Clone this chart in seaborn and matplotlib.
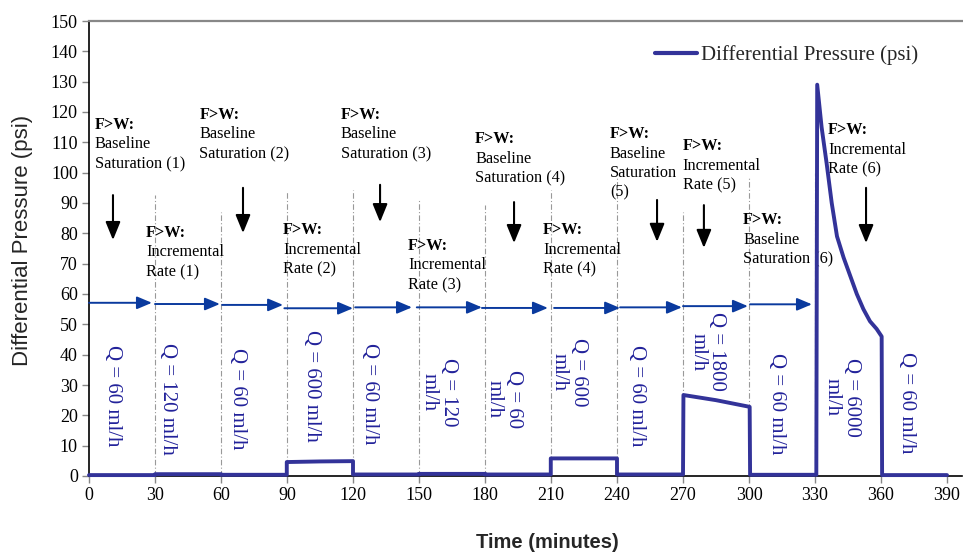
import numpy as np
import pandas as pd
import matplotlib
matplotlib.use("Agg")
import matplotlib.pyplot as plt
import seaborn as sns

# ---------------- data ----------------
time_min = [0, 30, 30, 60, 60, 89.9, 89.9, 105, 120, 120, 150, 150, 180, 180,
            209.9, 209.9, 240, 240, 270, 270.2, 285, 300.3, 300.5, 330.6, 331,
            333, 335.3, 337.6, 340, 343, 346, 349, 352, 355, 358, 360.3,
            360.5, 390]
pressure_psi = [0.3, 0.3, 0.6, 0.6, 0.4, 0.4, 4.6, 4.8, 4.9, 0.5, 0.5, 0.7, 0.7, 0.5,
                0.5, 5.8, 5.8, 0.5, 0.5, 26.7, 25.0, 22.8, 0.4, 0.4, 129,
                115, 103, 90, 79, 72, 66, 60, 55, 51, 48.5, 46,
                0.3, 0.3]

series_label = "Differential Pressure (psi)"
x_ticks = list(range(0, 391, 30))
y_ticks = list(range(0, 151, 10))

# phase boundaries (dashed lines) and their top heights
boundary_x = [30, 60, 90, 120, 150, 180, 210, 240, 270, 300, 330]
boundary_top = [92.6, 87, 93.6, 94.3, 91, 89.3, 94.3, 98.2, 87, 98.2, 99.9]

# phase annotations: header, body lines, anchor x, anchor y(top)
phase_header = "F>W:"
phase_bodies = [
    ["Baseline", "Saturation (1)"],
    ["Incremental", "Rate (1)"],
    ["Baseline", "Saturation (2)"],
    ["Incremental", "Rate (2)"],
    ["Baseline", "Saturation (3)"],
    ["Incremental", "Rate (3)"],
    ["Baseline", "Saturation (4)"],
    ["Incremental", "Rate (4)"],
    ["Baseline", "Saturation", "(5)"],
    ["Incremental", "Rate (5)"],
    ["Baseline", "Saturation (6)"],
    ["Incremental", "Rate (6)"],
]
phase_x = [2.7, 25.9, 50.2, 88.2, 114.5, 145, 175.5, 206.4, 236.8, 269.9, 297.3, 336]
phase_y = [118.4, 82.8, 121.7, 83.7, 121.7, 78.5, 113.7, 83.7, 115.4, 111.4, 87, 116.7]

# black down arrows: x, top, tip
down_x = [10.9, 70, 132.3, 193.2, 258.2, 279.5, 353.2]
down_top = [92.6, 95, 96, 90.3, 91, 89.3, 95]
down_tip = [77.8, 80.1, 83.7, 76.8, 77.2, 75.2, 76.8]

# blue horizontal arrows: start x, end x, level
flow_start = [0, 30, 60.5, 88.8, 121, 149, 178.6, 211.4, 241.4, 270, 300.5]
flow_end = [28.6, 59.5, 88.2, 120, 146.8, 178.6, 208.6, 241.4, 269.5, 299.5, 328.6]
flow_level = [57.1, 56.7, 56.4, 55.3, 55.6, 55.6, 55.4, 55.4, 55.6, 56.0, 56.6]

# flow-rate labels
rate_labels = ["Q = 60 ml/h", "Q = 120 ml/h", "Q = 60 ml/h", "Q = 600 ml/h",
               "Q = 60 ml/h", "Q = 120\nml/h", "Q = 60\nml/h", "Q = 600\nml/h",
               "Q = 60 ml/h", "Q = 1800\nml/h", "Q = 60 ml/h", "Q = 6000\nml/h",
               "Q = 60 ml/h"]
rate_x = [10.9, 35.9, 67.3, 101, 127.7, 159, 188.6, 218, 249, 281, 312.7, 342.3, 371.4]
rate_y = [43.2, 43.8, 42.2, 48.1, 43.8, 38.9, 35, 45.5, 43.2, 54, 40.5, 38.9, 40.9]

# ---------------- plot ----------------
sns.set_theme(style="ticks")
plt.rcParams["font.family"] = ["Liberation Serif", "DejaVu Serif"]

fig = plt.figure(figsize=(9.63, 5.54), dpi=100)
ax = fig.add_axes([89 / 963, (554 - 476) / 554, 873.4 / 963, 455 / 554])

df = pd.DataFrame({"time": time_min, "dp": pressure_psi})
line_color = "#333399"
sns.lineplot(data=df, x="time", y="dp", sort=False, estimator=None,
             color=line_color, lw=2.8, label=series_label, ax=ax,
             zorder=5, clip_on=False)

ax.set_xlim(0, 397)
ax.set_ylim(0, 150)
ax.set_xticks(x_ticks)
ax.set_yticks(y_ticks)
ax.tick_params(axis="both", direction="out", length=5, width=1,
               color="#888888", labelsize=13, labelcolor="black", pad=3)
for lab in ax.get_xticklabels() + ax.get_yticklabels():
    lab.set_fontfamily("Liberation Serif")

ax.spines["right"].set_visible(False)
ax.spines["top"].set_color("#888888")
ax.spines["top"].set_linewidth(1.6)
ax.spines["left"].set_color("black")
ax.spines["left"].set_linewidth(1.2)
ax.spines["bottom"].set_color("black")
ax.spines["bottom"].set_linewidth(1.2)

# dashed boundaries
for bx, bt in zip(boundary_x, boundary_top):
    ax.plot([bx, bx], [0, bt], color="#999999", lw=0.8,
            linestyle=(0, (5, 2, 1, 2)), zorder=1)

# phase texts
step = 6.45
for hx, hy, body in zip(phase_x, phase_y, phase_bodies):
    ax.text(hx, hy, phase_header, fontsize=11.7, fontweight="bold",
            ha="left", va="top", color="black")
    for i, ln in enumerate(body):
        ax.text(hx, hy - step * (i + 1), ln, fontsize=11.7,
                ha="left", va="top", color="black")

# black down arrows
for dx, dt, dp in zip(down_x, down_top, down_tip):
    ax.annotate("", xy=(dx, dp), xytext=(dx, dt),
                arrowprops=dict(arrowstyle="-|>,head_length=1.1,head_width=0.45",
                                color="black", lw=1.5, mutation_scale=10,
                                shrinkA=0, shrinkB=0))

# blue flow arrows
flow_color = "#0a3a9e"
for fs, fe, fl in zip(flow_start, flow_end, flow_level):
    ax.annotate("", xy=(fe, fl), xytext=(fs, fl),
                arrowprops=dict(arrowstyle="-|>,head_length=0.9,head_width=0.38",
                                color=flow_color, lw=1.4, mutation_scale=10,
                                shrinkA=0, shrinkB=0))

# rate labels
rate_color = "#22229a"
for rl, rx, ry in zip(rate_labels, rate_x, rate_y):
    ax.text(rx, ry, rl, rotation=-90, fontsize=15, color=rate_color,
            ha="center", va="top", multialignment="center", linespacing=1.0)

# labels
ax.set_xlabel("Time (minutes)", fontsize=14.5, fontweight="bold",
              fontfamily="Liberation Sans", va="center")
ax.xaxis.set_label_coords(0.525, -0.147)
ax.set_ylabel("Differential Pressure (psi)", fontsize=16,
              fontfamily="Liberation Sans", va="center")
ax.yaxis.set_label_coords(-0.0767, 0.5176)

leg = ax.legend(loc="center left", bbox_to_anchor=(0.648, 0.925), frameon=False,
                prop={"family": "Liberation Serif", "size": 15},
                handlelength=2.0, handletextpad=0.2, borderpad=0, borderaxespad=0)
for h in leg.get_lines():
    h.set_linewidth(3)

fig.savefig("out.png", dpi=100)
